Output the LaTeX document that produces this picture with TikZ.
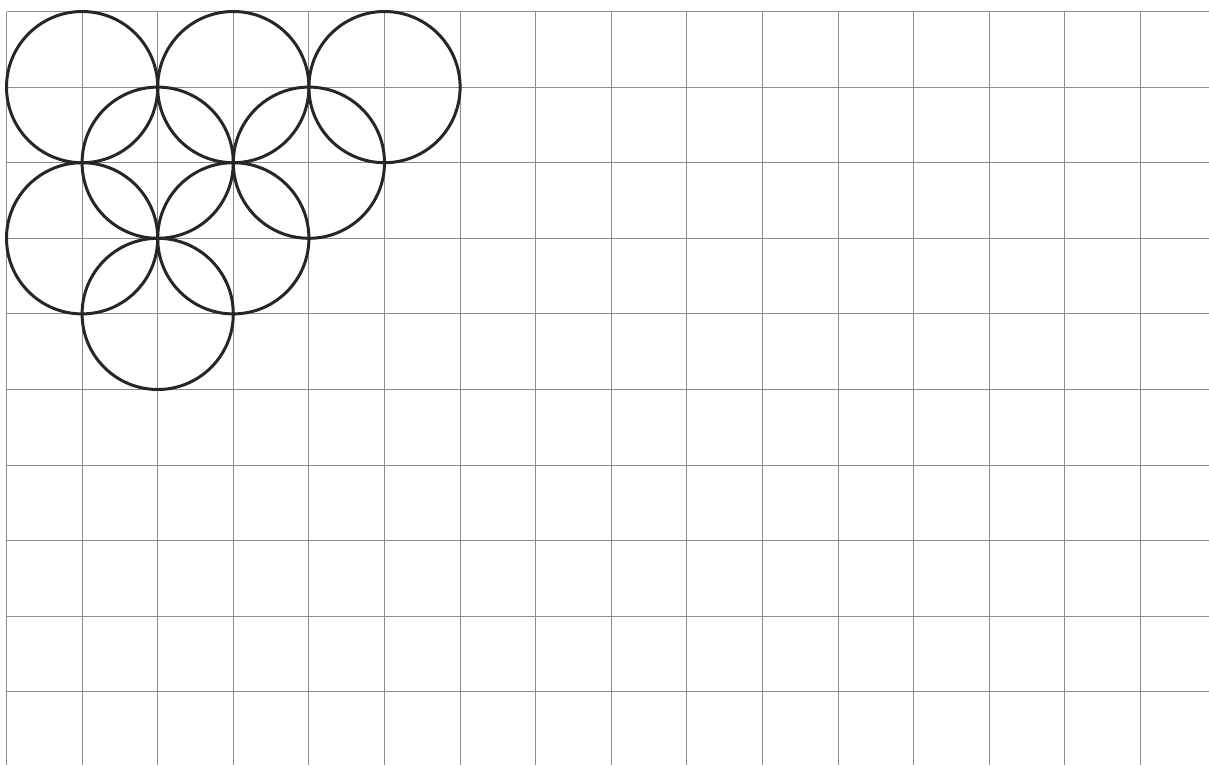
\documentclass[tikz,border=0pt]{standalone}
\begin{document}
\begin{tikzpicture}[x=0.02cm,y=-0.02cm,
  gridline/.style={draw={rgb,255:red,140;green,140;blue,140},line width=0.6pt},
  ring/.style={draw={rgb,255:red,38;green,38;blue,38},line width=1.7pt}]
\useasboundingbox (0,0) rectangle (1209,765);
\fill[white] (0,0) rectangle (1209,765);
\foreach \i in {0,...,15}{
  \draw[gridline] ({6.5+75.6*\i},11.5) -- ({6.5+75.6*\i},765);
}
\foreach \j in {0,...,9}{
  \draw[gridline] (6.5,{11.5+75.6*\j}) -- (1209,{11.5+75.6*\j});
}
\def\c{75.6}
\foreach \cx/\cy in {1/1,3/1,5/1,2/2,4/2,1/3,3/3,2/4}{
  \draw[ring] ({6.5+75.6*\cx},{11.5+75.6*\cy}) circle [radius=75.6];
}
\end{tikzpicture}
\end{document}
